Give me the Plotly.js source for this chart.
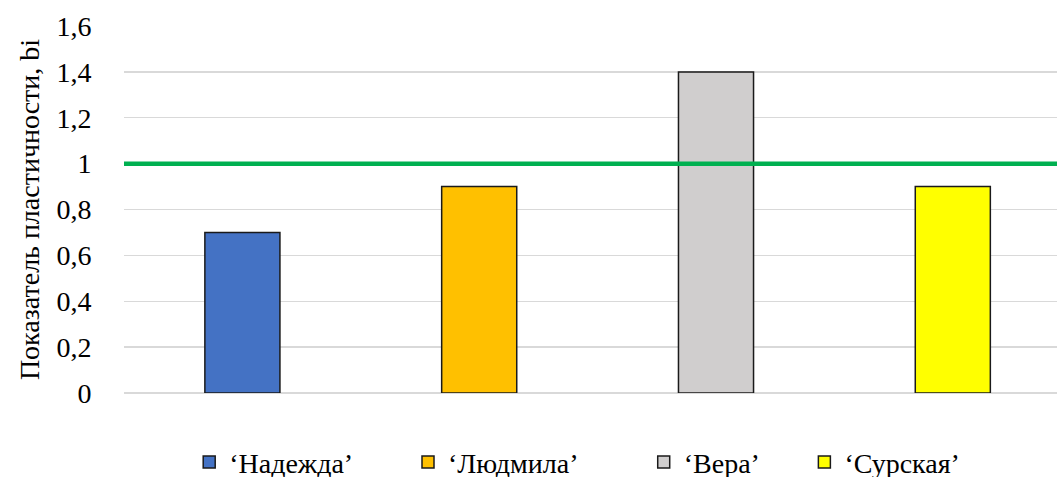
<!DOCTYPE html>
<html>
<head>
<meta charset="utf-8">
<script src="https://cdn.plot.ly/plotly-3.0.1.min.js"></script>
<style>html,body{margin:0;padding:0;background:#fff;}
#fontwarm{position:absolute;left:-2000px;top:0;font-family:'Liberation Serif';font-size:28px;}</style>
</head>
<body>
<div id="fontwarm">Показатель 0,2 ‘Надежда’</div>
<div id="chart" style="width:1057px;height:477px;"></div>
<script>
const categories = ["‘Надежда’", "‘Людмила’", "‘Вера’", "‘Сурская’"];
const values = [0.7, 0.9, 1.4, 0.9];
const colors = ["#4472c4", "#ffc000", "#d0cece", "#ffff00"];
const threshold = 1;
const tickValues = [0, 0.2, 0.4, 0.6, 0.8, 1, 1.2, 1.4, 1.6];
const tickLabels = ["0", "0,2", "0,4", "0,6", "0,8", "1", "1,2", "1,4", "1,6"];
const yTitle = "Показатель пластичности, bi";

const FAMILY = "Liberation Serif";
const FSIZE = 28;
const legendX = [0.179, 0.386, 0.609, 0.761];

const traces = categories.map((c, i) => ({
  type: "bar",
  x: [i],
  y: [values[i]],
  name: c,
  legend: i === 0 ? "legend" : "legend" + (i + 1),
  width: 0.317,
  marker: { color: colors[i], line: { color: "#1a1a1a", width: 1.5 } },
  hoverinfo: "skip"
}));

const layout = {
  width: 1057,
  height: 477,
  margin: { l: 124, r: 0, t: 26, b: 84 },
  paper_bgcolor: "#ffffff",
  plot_bgcolor: "#ffffff",
  barmode: "overlay",
  showlegend: true,
  xaxis: {
    range: [-0.5, 3.44],
    showticklabels: false,
    showgrid: false,
    zeroline: false,
    showline: false,
    ticks: ""
  },
  yaxis: {
    range: [0, 1.6],
    tickvals: tickValues,
    ticktext: tickLabels,
    showgrid: true,
    gridcolor: "#d9d9d9",
    gridwidth: 1.3,
    zeroline: true,
    zerolinecolor: "#d9d9d9",
    zerolinewidth: 1.3,
    showline: false,
    ticks: "outside",
    ticklen: 26,
    tickcolor: "rgba(0,0,0,0)",
    tickfont: { family: FAMILY, size: FSIZE, color: "#000000" },
    title: { text: yTitle, font: { family: FAMILY, size: FSIZE, color: "#000000" }, standoff: 8 }
  },
  shapes: [{
    type: "line",
    xref: "paper",
    x0: 0, x1: 1,
    yref: "y",
    y0: threshold, y1: threshold,
    line: { color: "#00b050", width: 4.5 },
    layer: "above"
  }]
};

legendX.forEach((lx, i) => {
  const key = i === 0 ? "legend" : "legend" + (i + 1);
  layout[key] = {
    orientation: "h",
    xref: "container",
    yref: "container",
    x: lx,
    xanchor: "left",
    y: 0.031,
    yanchor: "middle",
    bgcolor: "rgba(0,0,0,0)",
    font: { family: FAMILY, size: FSIZE, color: "#000000" },
    itemwidth: 30
  };
});

function fixFonts() {
  document.querySelectorAll("#chart svg text").forEach(t => {
    t.style.setProperty("font-family", "\"Liberation Serif\", \"Times New Roman\", serif", "important");
    t.style.setProperty("font-size", FSIZE + "px", "important");
  });
}

const config = { displayModeBar: false, staticPlot: true };
Plotly.newPlot("chart", traces, layout, config).then(fixFonts);
if (document.fonts && document.fonts.load) {
  document.fonts.load(FSIZE + 'px "Liberation Serif"', "Показатель 0,2").then(() => {
    return Plotly.react("chart", traces, layout, config).then(fixFonts);
  }).catch(() => {});
}
</script>
</body>
</html>
